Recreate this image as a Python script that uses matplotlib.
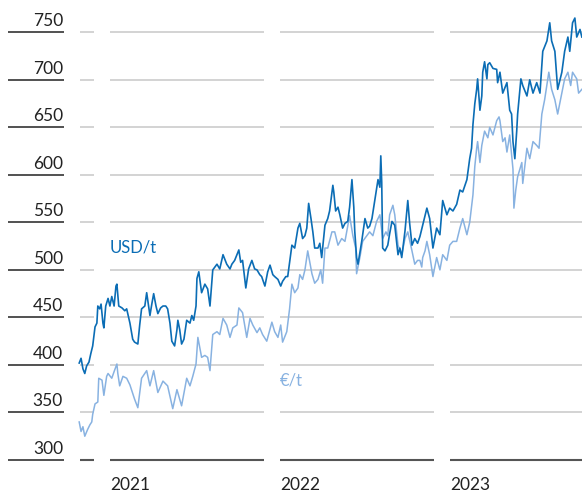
import matplotlib
matplotlib.use("Agg")
import matplotlib.pyplot as plt
import matplotlib.dates as mdates
import pandas as pd

# price in USD per tonne
usd_dates = [
    "2020-11-13", "2020-11-17", "2020-11-21", "2020-11-25", "2020-11-29", "2020-12-04", "2020-12-08",
    "2020-12-12", "2020-12-17", "2020-12-21", "2020-12-23", "2020-12-27", "2020-12-30", "2021-01-03",
    "2021-01-05", "2021-01-09", "2021-01-14", "2021-01-18", "2021-01-22", "2021-01-27", "2021-01-31",
    "2021-02-02", "2021-02-06", "2021-02-13", "2021-02-19", "2021-02-23", "2021-03-02", "2021-03-08",
    "2021-03-12", "2021-03-19", "2021-03-23", "2021-03-27", "2021-04-03", "2021-04-07", "2021-04-14",
    "2021-04-18", "2021-04-22", "2021-04-27", "2021-05-01", "2021-05-07", "2021-05-12", "2021-05-18",
    "2021-05-22", "2021-05-27", "2021-05-31", "2021-06-06", "2021-06-11", "2021-06-13", "2021-06-17",
    "2021-06-21", "2021-06-26", "2021-07-02", "2021-07-09", "2021-07-13", "2021-07-17", "2021-07-22",
    "2021-07-24", "2021-07-28", "2021-08-03", "2021-08-10", "2021-08-16", "2021-08-21", "2021-08-27",
    "2021-09-05", "2021-09-11", "2021-09-18", "2021-09-26", "2021-10-03", "2021-10-07", "2021-10-13",
    "2021-10-22", "2021-10-26", "2021-10-30", "2021-11-06", "2021-11-12", "2021-11-19", "2021-11-25",
    "2021-11-30", "2021-12-06", "2021-12-10", "2021-12-17", "2021-12-23", "2021-12-28", "2022-01-03",
    "2022-01-07", "2022-01-14", "2022-01-20", "2022-01-24", "2022-01-31", "2022-02-04", "2022-02-08",
    "2022-02-13", "2022-02-19", "2022-02-26", "2022-03-02", "2022-03-08", "2022-03-13", "2022-03-17",
    "2022-03-21", "2022-03-26", "2022-03-30", "2022-04-03", "2022-04-10", "2022-04-14", "2022-04-18",
    "2022-04-25", "2022-05-01", "2022-05-05", "2022-05-12", "2022-05-14", "2022-05-18", "2022-05-23",
    "2022-05-27", "2022-06-02", "2022-06-07", "2022-06-13", "2022-06-17", "2022-06-22", "2022-06-26",
    "2022-06-28", "2022-07-02", "2022-07-05", "2022-07-09", "2022-07-13", "2022-07-20", "2022-07-26",
    "2022-07-30", "2022-08-04", "2022-08-10", "2022-08-17", "2022-08-21", "2022-08-23", "2022-08-25",
    "2022-08-27", "2022-09-01", "2022-09-07", "2022-09-11", "2022-09-16", "2022-09-22", "2022-09-29",
    "2022-10-03", "2022-10-07", "2022-10-14", "2022-10-20", "2022-10-24", "2022-10-29", "2022-11-04",
    "2022-11-10", "2022-11-15", "2022-11-21", "2022-11-30", "2022-12-06", "2022-12-13", "2022-12-21",
    "2022-12-28", "2023-01-03", "2023-01-12", "2023-01-18", "2023-01-25", "2023-02-02", "2023-02-09",
    "2023-02-15", "2023-02-24", "2023-03-02", "2023-03-06", "2023-03-09", "2023-03-13", "2023-03-17",
    "2023-03-19", "2023-03-24", "2023-03-28", "2023-03-30", "2023-04-03", "2023-04-08", "2023-04-10",
    "2023-04-14", "2023-04-21", "2023-04-29", "2023-05-01", "2023-05-06", "2023-05-12", "2023-05-21",
    "2023-05-27", "2023-05-31", "2023-06-03", "2023-06-07", "2023-06-11", "2023-06-13", "2023-06-20",
    "2023-06-24", "2023-07-03", "2023-07-09", "2023-07-16", "2023-07-24", "2023-07-31", "2023-08-06",
    "2023-08-15", "2023-08-21", "2023-08-25", "2023-09-01", "2023-09-07", "2023-09-16", "2023-09-22",
    "2023-09-29", "2023-10-03", "2023-10-09", "2023-10-14", "2023-10-18", "2023-10-25", "2023-10-29",
]
usd_values = [
    402, 407, 396, 391, 399, 403, 412,
    420, 440, 444, 462, 459, 464, 444,
    439, 462, 470, 462, 472, 462, 483,
    485, 462, 460, 457, 459, 444, 427,
    424, 422, 442, 459, 462, 476, 452,
    464, 475, 462, 454, 460, 462, 462,
    459, 444, 425, 420, 437, 447, 437,
    422, 427, 447, 444, 452, 447, 462,
    491, 498, 476, 485, 480, 462, 500,
    506, 501, 516, 506, 501, 506, 510,
    521, 508, 510, 481, 501, 510, 501,
    500, 495, 493, 483, 498, 505, 495,
    493, 490, 483, 488, 493, 493, 508,
    526, 523, 544, 549, 533, 536, 544,
    570, 554, 540, 523, 523, 528, 513,
    547, 554, 562, 589, 582, 562, 566,
    558, 544, 549, 551, 566, 595, 566,
    541, 513, 506, 518, 530, 554, 544,
    546, 554, 573, 595, 587, 620, 592,
    523, 520, 526, 538, 551, 547, 516,
    523, 513, 541, 573, 549, 526, 533,
    528, 535, 547, 565, 554, 523, 544,
    537, 573, 558, 565, 562, 569, 584,
    582, 595, 617, 628, 653, 675, 690,
    701, 668, 683, 708, 719, 701, 716,
    718, 712, 711, 697, 708, 686, 697,
    668, 664, 635, 617, 646, 664, 701,
    694, 683, 700, 686, 697, 686, 730,
    741, 760, 741, 730, 690, 708, 730,
    745, 730, 760, 765, 745, 753, 745,
]

# price in EUR per tonne
eur_dates = [
    "2020-11-13", "2020-11-17", "2020-11-21", "2020-11-25", "2020-12-01", "2020-12-06", "2020-12-10",
    "2020-12-12", "2020-12-17", "2020-12-23", "2020-12-25", "2021-01-01", "2021-01-05", "2021-01-11",
    "2021-01-14", "2021-01-22", "2021-01-27", "2021-02-02", "2021-02-04", "2021-02-08", "2021-02-15",
    "2021-02-23", "2021-03-02", "2021-03-12", "2021-03-19", "2021-03-27", "2021-04-03", "2021-04-07",
    "2021-04-14", "2021-04-22", "2021-05-01", "2021-05-12", "2021-05-22", "2021-06-02", "2021-06-11",
    "2021-06-21", "2021-07-02", "2021-07-09", "2021-07-15", "2021-07-22", "2021-07-26", "2021-08-03",
    "2021-08-10", "2021-08-16", "2021-08-21", "2021-08-27", "2021-09-05", "2021-09-11", "2021-09-18",
    "2021-09-26", "2021-10-03", "2021-10-09", "2021-10-18", "2021-10-22", "2021-10-30", "2021-11-08",
    "2021-11-15", "2021-11-21", "2021-11-30", "2021-12-06", "2021-12-12", "2021-12-21", "2022-01-01",
    "2022-01-07", "2022-01-14", "2022-01-20", "2022-01-24", "2022-02-02", "2022-02-08", "2022-02-13",
    "2022-02-19", "2022-02-26", "2022-03-02", "2022-03-08", "2022-03-13", "2022-03-19", "2022-03-28",
    "2022-04-03", "2022-04-10", "2022-04-16", "2022-04-20", "2022-04-25", "2022-05-01", "2022-05-10",
    "2022-05-16", "2022-05-23", "2022-05-31", "2022-06-07", "2022-06-17", "2022-06-24", "2022-06-30",
    "2022-07-02", "2022-07-09", "2022-07-15", "2022-07-24", "2022-07-30", "2022-08-06", "2022-08-14",
    "2022-08-21", "2022-08-27", "2022-09-03", "2022-09-07", "2022-09-11", "2022-09-18", "2022-09-22",
    "2022-09-29", "2022-10-07", "2022-10-14", "2022-10-20", "2022-10-29", "2022-11-04", "2022-11-10",
    "2022-11-15", "2022-11-19", "2022-11-21", "2022-11-26", "2022-11-30", "2022-12-06", "2022-12-13",
    "2022-12-21", "2022-12-28", "2023-01-03", "2023-01-12", "2023-01-18", "2023-01-25", "2023-02-02",
    "2023-02-09", "2023-02-15", "2023-02-24", "2023-03-02", "2023-03-09", "2023-03-13", "2023-03-17",
    "2023-03-19", "2023-03-24", "2023-03-28", "2023-04-03", "2023-04-10", "2023-04-14", "2023-04-21",
    "2023-04-29", "2023-05-04", "2023-05-06", "2023-05-10", "2023-05-12", "2023-05-17", "2023-05-21",
    "2023-05-27", "2023-06-03", "2023-06-05", "2023-06-09", "2023-06-13", "2023-06-22", "2023-06-24",
    "2023-07-03", "2023-07-09", "2023-07-16", "2023-07-24", "2023-07-29", "2023-08-04", "2023-08-10",
    "2023-08-19", "2023-08-25", "2023-09-01", "2023-09-07", "2023-09-16", "2023-09-22", "2023-09-29",
    "2023-10-05", "2023-10-09", "2023-10-18", "2023-10-22", "2023-10-29",
]
eur_values = [
    340, 330, 335, 325, 332, 337, 340,
    348, 359, 361, 386, 384, 368, 388,
    391, 386, 393, 401, 391, 378, 388,
    386, 379, 364, 355, 386, 391, 394,
    378, 394, 371, 383, 378, 354, 374,
    357, 386, 378, 388, 401, 429, 408,
    410, 408, 394, 432, 435, 432, 449,
    442, 429, 439, 442, 460, 455, 429,
    449, 442, 434, 439, 432, 425, 445,
    435, 429, 442, 424, 435, 459, 485,
    476, 481, 495, 490, 500, 520, 496,
    486, 490, 500, 486, 523, 523, 540,
    540, 526, 533, 530, 557, 536, 523,
    496, 513, 530, 536, 540, 536, 551,
    558, 533, 540, 536, 558, 568, 558,
    526, 516, 533, 540, 520, 506, 510,
    510, 503, 513, 520, 530, 516, 493,
    513, 500, 516, 510, 526, 530, 530,
    544, 554, 537, 550, 579, 609, 628,
    635, 613, 631, 646, 639, 650, 642,
    657, 661, 657, 642, 635, 639, 624,
    642, 606, 565, 584, 598, 613, 591,
    628, 617, 635, 631, 628, 664, 679,
    708, 690, 679, 664, 686, 701, 708,
    694, 708, 701, 686, 690,
]

levels = [300, 350, 400, 450, 500, 550, 600, 650, 700, 750]
years = ["2021", "2022", "2023"]

DARK = "#0b6db5"
LIGHT = "#88b2e1"

plt.rcParams["font.family"] = ["Lato", "DejaVu Sans"]

fig = plt.figure(figsize=(5.82, 4.94), dpi=100)
ax = fig.add_axes([0, 0, 1, 1])
ax.axis("off")

# pixel helpers for layout only
origin = mdates.date2num(pd.Timestamp("2021-01-01"))
def px_x(p):
    return origin + (p - 102) * 365.25 / 170
def px_y(p):
    return 750 - (p - 32.3) / 0.9504

ax.set_xlim(px_x(0), px_x(582))
ax.set_ylim(px_y(494), px_y(0))

segments = [(80, 94), (110, 264), (280, 434), (450, 582)]
for lvl in levels:
    if lvl == 300:
        col, lw = "#555555", 1.5
    else:
        col, lw = "#c8c8c8", 1.1
    for a, b in segments:
        ax.hlines(lvl, px_x(a), px_x(b), color=col, lw=lw, zorder=1)
    # left tick bar and label
    ax.hlines(lvl, px_x(8), px_x(64), color="#222222", lw=1.1, zorder=1)
    ax.text(px_x(63), lvl + 6 / 0.9504, str(lvl), ha="right", va="baseline",
            fontsize=12.5, color="#222222")

for i, yr in enumerate(years):
    ax.text(px_x(segments[i + 1][0]), px_y(490.5), yr, ha="left", va="baseline",
            fontsize=12.5, color="#222222")

ax.plot(mdates.date2num(pd.to_datetime(eur_dates)), eur_values, color=LIGHT, lw=1.1, zorder=2)
ax.plot(mdates.date2num(pd.to_datetime(usd_dates)), usd_values, color=DARK, lw=1.2, zorder=3)

ax.text(px_x(110), px_y(252), "USD/t", ha="left", va="baseline", fontsize=12, color=DARK)
ax.text(px_x(280), px_y(385), "€/t", ha="left", va="baseline", fontsize=12, color=LIGHT)

fig.savefig("out.png", dpi=100)
